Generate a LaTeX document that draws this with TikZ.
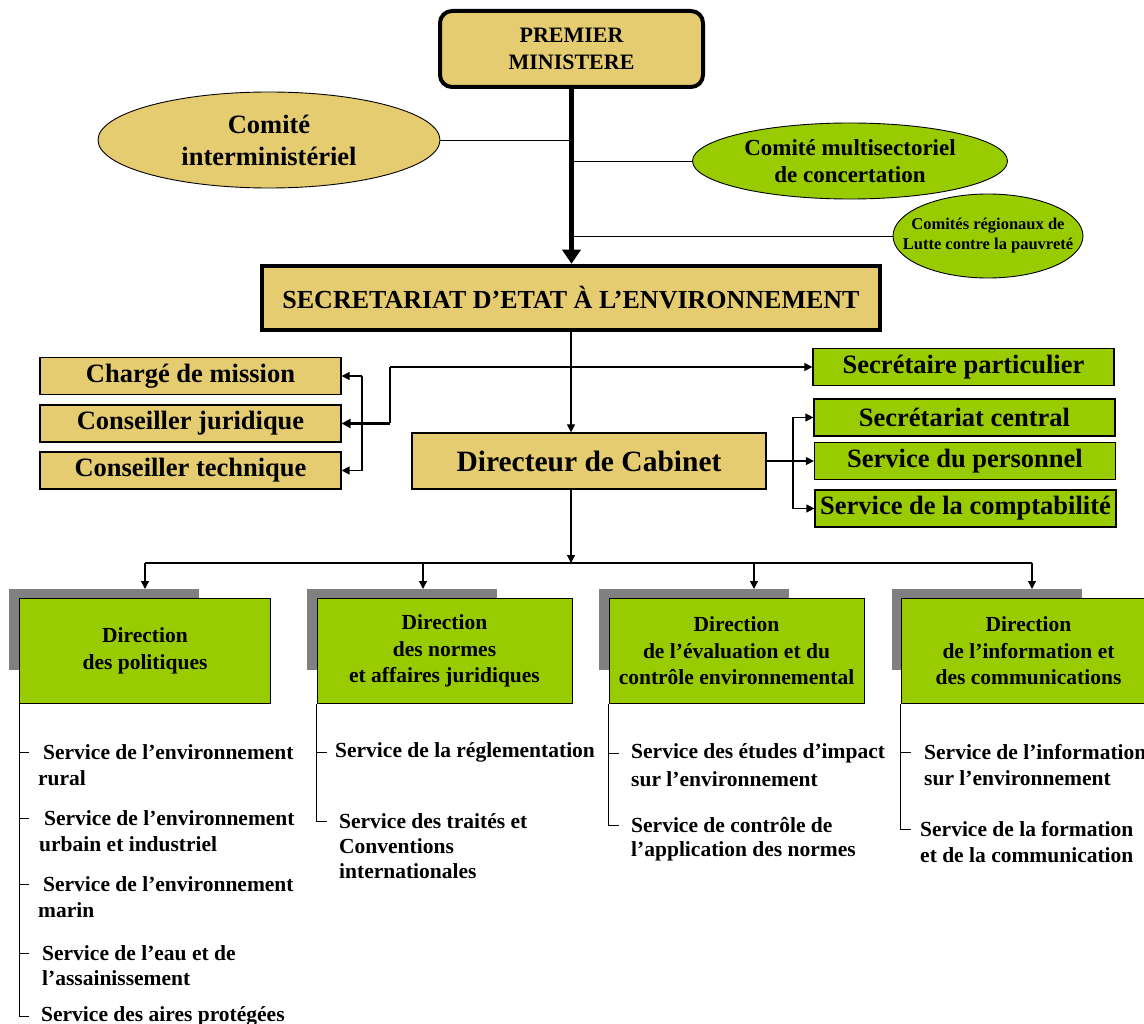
\documentclass[tikz,border=0pt]{standalone}
\usepackage{fontspec}
\setmainfont{Liberation Serif}
\usetikzlibrary{arrows.meta,shapes.geometric,calc}
\definecolor{khaki}{HTML}{E5CC70}
\definecolor{lgreen}{HTML}{99CC00}
\definecolor{shadowgray}{HTML}{808080}
\begin{document}
\begin{tikzpicture}[x=1pt,y=-1pt,
  every node/.style={inner sep=0pt},
  kbox/.style={draw, fill=khaki, line width=1.2pt, minimum width=301pt, minimum height=37pt, font=\bfseries\fontsize{26.5}{30}\selectfont},
  gbox/.style={draw, fill=lgreen, line width=1.2pt, minimum width=301pt, minimum height=37pt, font=\bfseries\fontsize{26.5}{30}\selectfont},
  dirbox/.style={draw, fill=lgreen, line width=0.8pt, minimum width=255pt, minimum height=105pt, align=center, font=\bfseries\fontsize{21.5}{26.5}\selectfont},
  shadowbox/.style={fill=shadowgray, minimum width=190pt, minimum height=81pt, anchor=north west},
  svc/.style={anchor=west, font=\bfseries\fontsize{21.5}{26}\selectfont},
  arr/.style={-{Triangle[length=8pt,width=8pt]}, line width=1.2pt},
  conn/.style={line width=0.9pt}
]
\useasboundingbox (0,0) rectangle (1144,1024);

% top
\node[draw, fill=khaki, line width=4pt, rounded corners=12pt, minimum width=263pt, minimum height=76pt, align=center,
  font=\bfseries\fontsize{22}{27}\selectfont] (pm) at (571.5,49) {PREMIER\\MINISTERE};
\node[ellipse, draw, fill=khaki, line width=0.9pt, minimum width=342pt, minimum height=96pt, align=center,
  font=\bfseries\fontsize{26.5}{32}\selectfont] (ci) at (269,140) {Comité\\interministériel};
\node[ellipse, draw, fill=lgreen, line width=0.9pt, minimum width=315pt, minimum height=76pt, align=center,
  font=\bfseries\fontsize{23}{27}\selectfont] (cm) at (850,161) {Comité multisectoriel\\de concertation};
\node[ellipse, draw, fill=lgreen, line width=0.9pt, minimum width=190pt, minimum height=84pt,
  label={[align=center, font=\bfseries\fontsize{16.5}{20}\selectfont]center:{Comités régionaux de\\Lutte contre la pauvreté}}] (cr) at (988,236) {};
\node[draw, fill=khaki, line width=4.5pt, minimum width=618pt, minimum height=64pt,
  font=\bfseries\fontsize{26}{30}\selectfont] (sec) at (571,298) {SECRETARIAT D’ETAT À L’ENVIRONNEMENT};

\draw[line width=5pt, -{Triangle[length=14pt,width=18pt]}] (pm.south) -- (pm.south |- sec.north);
\draw[conn] (ci.east) -- (ci.east -| pm.south);
\draw[conn] (cm.west) -- (cm.west -| pm.south);
\draw[conn] (cr.west) -- (cr.west -| pm.south);

% cabinet level
\node[kbox] (cmis) at (190.5,376) {Chargé de mission};
\node[kbox] (cj) at (190.5,423.5) {Conseiller juridique};
\node[kbox] (ct) at (190.5,470.5) {Conseiller technique};
\node[draw, fill=khaki, line width=1.2pt, minimum width=354pt, minimum height=56pt,
  font=\bfseries\fontsize{29.5}{34}\selectfont] (dc) at (589,461) {Directeur de Cabinet};
\node[gbox] (sp) at (963.5,367) {Secrétaire particulier};
\node[gbox] (sc) at (964.5,417.5) {Secrétariat central};
\node[gbox] (spers) at (965,461) {Service du personnel};
\node[gbox] (scomp) at (965.5,508.5) {Service de la comptabilité};

\coordinate (j1) at (390,367);
\draw[arr] (sec.south) -- (sec.south |- dc.north);
\draw[arr] (j1) -- (j1 -| sp.west);
\draw[line width=1.2pt] (j1) -- (j1 |- cj.east);
\draw[line width=2.2pt, -{Triangle[length=9pt,width=9pt]}] (j1 |- cj.east) -- (cj.east);
\coordinate (bl) at (362,0);
\draw[line width=1.2pt] (bl |- cmis.east) -- (bl |- ct.east);
\draw[arr] (bl |- cmis.east) -- (cmis.east);
\draw[arr] (bl |- ct.east) -- (ct.east);

\draw[arr] (dc.east) -- (dc.east -| spers.west);
\coordinate (br) at (793,0);
\draw[line width=1.2pt] (br |- sc.west) -- (br |- scomp.west);
\draw[arr] (br |- sc.west) -- (sc.west);
\draw[arr] (br |- scomp.west) -- (scomp.west);

% directions
\node[shadowbox] (sh1) at (9,589) {};
\node[shadowbox] (sh2) at (307,589) {};
\node[shadowbox] (sh3) at (599,589) {};
\node[shadowbox] (sh4) at (892,589) {};
\node[dirbox, minimum width=251pt] (d1) at (145,651) {Direction\\des politiques};
\node[dirbox] (d2) at (444.5,651) {Direction\\des normes\\et affaires juridiques};
\node[dirbox] (d3) at (736.5,651) {Direction\\de l’évaluation et du\\contrôle environnemental};
\node[dirbox] (d4) at (1028.5,651) {Direction\\de l’information et\\des communications};

\coordinate (hb) at (571,563);
\coordinate (a1) at (145,563);
\coordinate (a2) at (423,563);
\coordinate (a3) at (754,563);
\coordinate (a4) at (1032,563);
\draw[arr] (sec.south |- dc.south) -- (hb);
\draw[line width=1.2pt] (a1) -- (a4);
\draw[arr] (a1) -- (a1 |- sh1.north);
\draw[arr] (a2) -- (a2 |- sh2.north);
\draw[arr] (a3) -- (a3 |- sh3.north);
\draw[arr] (a4) -- (a4 |- sh4.north);

% services of d1
\node[svc] (s1a) at (43,752) {Service de l’environnement};
\node[svc] (s1b) at (38,778) {rural};
\node[svc] (s2a) at (44,818) {Service de l’environnement};
\node[svc] (s2b) at (39,844) {urbain et industriel};
\node[svc] (s3a) at (43,884) {Service de l’environnement};
\node[svc] (s3b) at (38,910) {marin};
\node[svc] (s4a) at (42,953) {Service de l’eau et de};
\node[svc] (s4b) at (42,978) {l’assainissement};
\node[svc] (s5a) at (41,1016) {Service des aires protégées};
\draw[conn] (d1.south west) -- (d1.south west |- s5a.west) -- ++(10,0);
\foreach \s in {s1a,s2a,s3a,s4a} \draw[conn] (d1.south west |- \s.west) -- ++(10,0);

% services of d2
\node[svc] (r1a) at (335,752) {Service de la réglementation};
\node[svc] (r2a) at (339,821) {Service des traités et};
\node[svc] (r2b) at (339,846) {Conventions};
\node[svc] (r2c) at (339,871) {internationales};
\draw[conn] (d2.south west) -- (d2.south west |- r2a.west) -- ++(10,0);
\draw[conn] (d2.south west |- r1a.west) -- ++(10,0);

% services of d3
\node[svc] (e1a) at (631,753) {Service des études d’impact};
\node[svc] (e1b) at (631,779) {sur l’environnement};
\node[svc] (e2a) at (631,825) {Service de contrôle de};
\node[svc] (e2b) at (631,851) {l’application des normes};
\draw[conn] (d3.south west) -- (d3.south west |- e2a.west) -- ++(10,0);
\draw[conn] (d3.south west |- e1a.west) -- ++(10,0);

% services of d4
\node[svc] (i1a) at (924,752) {Service de l’information};
\node[svc] (i1b) at (924,778) {sur l’environnement};
\node[svc] (i2a) at (920,829) {Service de la formation};
\node[svc] (i2b) at (920,855) {et de la communication};
\draw[conn] (d4.south west) -- (d4.south west |- i2a.west) -- ++(10,0);
\draw[conn] (d4.south west |- i1a.west) -- ++(10,0);
\end{tikzpicture}
\end{document}
